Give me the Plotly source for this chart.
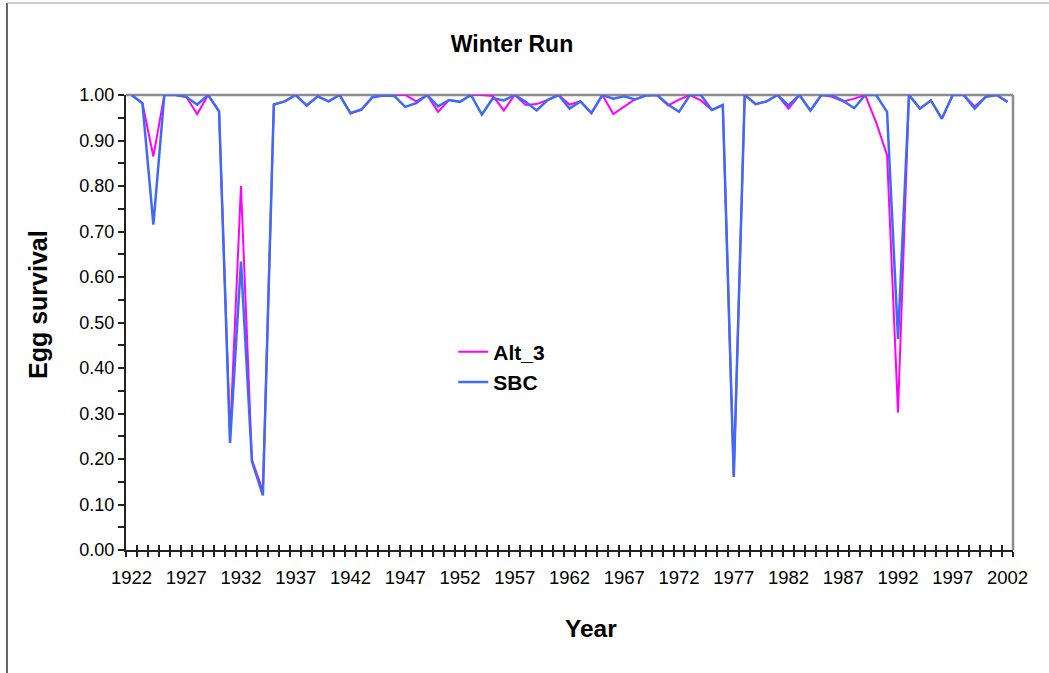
import plotly.graph_objects as go

# Water years on the category axis
years = list(range(1922, 2003))

# Winter-run egg survival by scenario
alt_3 = [
    1.00, 0.982, 0.865, 1.00, 1.00, 0.996, 0.958, 1.00, 0.964, 0.25,
    0.80, 0.198, 0.13, 0.979, 0.986, 1.00, 0.977, 0.997, 0.986, 1.00,
    0.960, 0.968, 0.995, 0.999, 1.00, 1.00, 0.986, 1.00, 0.963, 0.989,
    0.985, 1.00, 1.00, 0.998, 0.966, 1.00, 0.978, 0.980, 0.989, 1.00,
    0.979, 0.986, 0.960, 1.00, 0.958, 0.975, 0.991, 0.999, 1.00, 0.977,
    0.990, 1.00, 0.988, 0.967, 0.978, 0.161, 1.00, 0.980, 0.986, 1.00,
    0.970, 1.00, 0.966, 1.00, 0.996, 0.986, 0.992, 1.00, 0.940, 0.868,
    0.302, 1.00, 0.970, 0.988, 0.948, 1.00, 1.00, 0.975, 0.996, 1.00,
    0.985,
]
sbc = [
    1.00, 0.982, 0.715, 1.00, 1.00, 0.996, 0.979, 1.00, 0.964, 0.235,
    0.634, 0.195, 0.12, 0.979, 0.986, 1.00, 0.977, 0.997, 0.986, 1.00,
    0.960, 0.968, 0.995, 0.999, 0.998, 0.974, 0.982, 1.00, 0.975, 0.989,
    0.985, 1.00, 0.957, 0.993, 0.988, 1.00, 0.985, 0.966, 0.989, 1.00,
    0.970, 0.986, 0.960, 1.00, 0.992, 0.997, 0.990, 0.999, 1.00, 0.979,
    0.963, 1.00, 1.00, 0.967, 0.978, 0.161, 1.00, 0.980, 0.986, 1.00,
    0.977, 1.00, 0.966, 1.00, 0.999, 0.987, 0.971, 1.00, 1.00, 0.963,
    0.464, 1.00, 0.970, 0.988, 0.948, 1.00, 1.00, 0.970, 0.996, 1.00,
    0.985,
]

# Year labels every fifth year
label_years = list(range(1922, 2003, 5))

FONT = "Liberation Sans, Arial, sans-serif"
x_range = [years[0] - 0.5, years[-1] + 0.5]

fig = go.Figure()
fig.add_trace(go.Scatter(
    x=years, y=alt_3, name="<b>Alt_3</b>", mode="lines",
    line=dict(color="#FF00FF", width=2), cliponaxis=False,
))
fig.add_trace(go.Scatter(
    x=years, y=sbc, name="<b>SBC</b>", mode="lines",
    line=dict(color="#3D6BF5", width=2.5), cliponaxis=False,
))

fig.update_layout(
    width=1049, height=673,
    margin=dict(l=126, r=36, t=95, b=123),
    paper_bgcolor="white", plot_bgcolor="white",
    font=dict(family=FONT, size=18, color="black"),
    showlegend=True,
    legend=dict(
        x=0.369, y=0.480, xanchor="left", yanchor="top",
        bgcolor="rgba(0,0,0,0)", font=dict(size=21, family=FONT),
        tracegroupgap=0,
    ),
    xaxis=dict(
        range=x_range, tickmode="array", tickvals=label_years,
        ticktext=[str(y) for y in label_years],
        ticks="outside", ticklen=10, tickcolor="rgba(0,0,0,0)",
        tickfont=dict(size=18.5),
        showgrid=False, zeroline=False,
        showline=True, linecolor="#222222", linewidth=2,
        minor=dict(ticks="outside", tickmode="linear", tick0=x_range[0],
                   dtick=1, ticklen=5, tickcolor="#222222", tickwidth=1.5,
                   showgrid=False),
    ),
    xaxis2=dict(
        range=x_range, overlaying="x", anchor="y", side="bottom",
        tickmode="linear", tick0=x_range[0], dtick=1,
        ticks="inside", ticklen=5, tickcolor="#222222", tickwidth=1.5,
        showticklabels=False, showgrid=False, zeroline=False, showline=False,
    ),
    yaxis=dict(
        range=[0, 1], tickmode="linear", tick0=0, dtick=0.1,
        tickformat=".2f", ticks="outside", ticklen=6, tickwidth=1.5,
        tickcolor="#222222",
        showgrid=False, zeroline=False,
        showline=True, linecolor="#222222", linewidth=2,
        minor=dict(ticks="outside", dtick=0.05, ticklen=6, tickwidth=1.5,
                   tickcolor="#222222", showgrid=False),
    ),
    title=dict(
        text="<b>Winter Run</b>", x=512 / 1049, xref="container",
        xanchor="center", y=1 - 44 / 673, yref="container", yanchor="middle",
        font=dict(size=23, family=FONT, color="black"),
    ),
)

# Dummy trace so the overlaid tick axis is rendered
fig.add_trace(go.Scatter(x=[x_range[0]], y=[None], xaxis="x2",
                         showlegend=False, hoverinfo="skip"))

# Axis titles
fig.add_annotation(text="<b>Year</b>", xref="paper", yref="paper",
                   x=(591 - 126) / 887, y=(550 - 628) / 455,
                   xanchor="center", yanchor="middle", showarrow=False,
                   font=dict(size=24.5, family=FONT, color="black"))
fig.add_annotation(text="<b>Egg survival</b>", xref="paper", yref="paper",
                   x=(38 - 126) / 887, y=(550 - 305) / 455, textangle=-90,
                   xanchor="center", yanchor="middle", showarrow=False,
                   font=dict(size=25, family=FONT, color="black"))

# Plot-area frame (grey top and right edges) and chart-area border
fig.add_shape(type="line", xref="paper", yref="paper", x0=0, x1=1, y0=1, y1=1,
              line=dict(color="#8C8C8C", width=2.5), layer="below")
fig.add_shape(type="line", xref="paper", yref="paper", x0=1, x1=1, y0=0, y1=1,
              line=dict(color="#8C8C8C", width=2.5), layer="below")
fig.add_shape(type="line", xref="paper", yref="paper",
              x0=(7 - 126) / 887, x1=(7 - 126) / 887,
              y0=(550 - 3) / 455, y1=(550 - 680) / 455,
              line=dict(color="#333333", width=1.5))
fig.add_shape(type="line", xref="paper", yref="paper",
              x0=(7 - 126) / 887, x1=(1060 - 126) / 887,
              y0=(550 - 3) / 455, y1=(550 - 3) / 455,
              line=dict(color="#A0A0A0", width=1))

fig.write_html("out.html")
